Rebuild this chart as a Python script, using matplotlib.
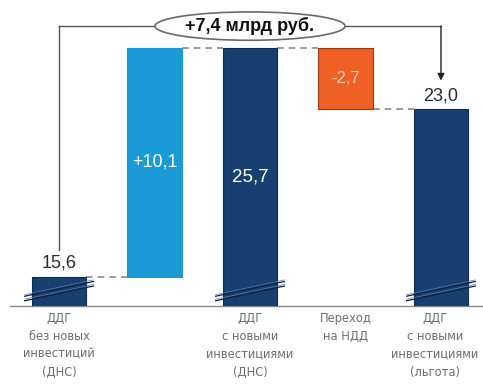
import matplotlib
matplotlib.use("Agg")
import matplotlib.pyplot as plt
import matplotlib.transforms as mtransforms
from matplotlib.patches import Ellipse

plt.rcParams['font.family'] = ['Liberation Sans', 'DejaVu Sans']

categories = ["ДДГ\nбез новых\nинвестиций\n(ДНС)", "",
              "ДДГ\nс новыми\nинвестициями\n(ДНС)", "Переход\nна НДД",
              "ДДГ\nс новыми\nинвестициями\n(льгота)"]
values = [15.6, 10.1, 25.7, -2.7, 23.0]
value_labels = ["15,6", "+10,1", "25,7", "-2,7", "23,0"]
total_label = "+7,4 млрд руб."
kinds = ["total", "delta", "total", "delta", "total"]

navy = "#173F6F"
light = "#1A9AD7"
orange = "#EE6023"

fig = plt.figure(figsize=(4.83, 3.85), dpi=100)
ax = fig.add_axes([10/483, 79/385, 473/483, 306/385])
ax.set_xlim(-0.514, 4.44)
ax.set_ylim(14.32, 27.8)

x = list(range(len(values)))
bottoms, heights, colors = [], [], []
running = 0.0
for i, (v, k) in enumerate(zip(values, kinds)):
    if k == "total":
        bottoms.append(0.0); heights.append(v); running = v
        colors.append(navy)
    else:
        if v >= 0:
            bottoms.append(running); heights.append(v); colors.append(light)
        else:
            bottoms.append(running + v); heights.append(-v); colors.append(orange)
        running += v

edgec = ["#0F2C52", light, "#0F2C52", "#9A3A12", "#0F2C52"]
w = 0.57
ax.bar(x, heights, bottom=bottoms, width=w, color=colors, edgecolor=edgec,
       linewidth=0.8, zorder=3)

# dashed connectors
tops = [b + h for b, h in zip(bottoms, heights)]
conn = [(0, 1, tops[0]), (1, 2, tops[1]), (2, 3, tops[2]), (3, 4, bottoms[3])]
for a, b, y in conn:
    ax.plot([a + w/2, b - w/2], [y, y], color="#8A8A8A", lw=1.2,
            linestyle=(0, (4, 3)), zorder=2)

# break marks on total bars
for i, k in enumerate(kinds):
    if k == "total":
        for off in (0.0, 0.2):
            ax.plot([i - 0.36, i + 0.36], [14.55 + off, 15.2 + off],
                    color="#0A2444", lw=0.9, zorder=4, clip_on=False)
            ax.plot([i - 0.36, i + 0.36], [14.62 + off, 15.27 + off],
                    color="#5E7FA8", lw=0.5, zorder=4, clip_on=False)

# value labels
ax.text(0, tops[0] + 0.6, value_labels[0], ha="center", va="center",
        fontsize=13, color="#2A2A2A", zorder=5)
ax.text(1, (bottoms[1] + tops[1]) / 2, value_labels[1], ha="center",
        va="center", fontsize=13, color="white", zorder=5)
ax.text(2, 20.0, value_labels[2], ha="center", va="center", fontsize=13.5,
        color="white", zorder=5)
ax.text(3, (bottoms[3] + tops[3]) / 2, value_labels[3], ha="center",
        va="center", fontsize=12, color="#F7D2C0", zorder=5)
ax.text(4, tops[4] + 0.55, value_labels[4], ha="center", va="center",
        fontsize=13, color="#2A2A2A", zorder=5)

# bracket with total change
ytop = 26.65
lc = "#555555"
ax.plot([0, 0], [16.8, ytop], color=lc, lw=1.0, zorder=2)
ax.plot([0, 4], [ytop, ytop], color=lc, lw=1.0, zorder=2)
ax.annotate("", xy=(4, 24.25), xytext=(4, ytop),
            arrowprops=dict(arrowstyle="-|>", color="#222222", lw=1.0,
                            mutation_scale=10, shrinkA=0, shrinkB=0), zorder=2)
ell = Ellipse((2.0, ytop), 1.99, 1.25, facecolor="white", edgecolor="#6A6A6A",
              lw=1.2, zorder=4)
ax.add_patch(ell)
ax.text(2.0, ytop, total_label, ha="center", va="center", fontsize=13,
        fontweight="bold", color="#111111", zorder=5)

ax.set_xticks(x)
ax.set_xticklabels(categories, fontsize=8.3, color="#6E6E6E", linespacing=1.5,
                   family=['DejaVu Sans'])
ax.tick_params(axis="x", length=0, pad=4)
last = ax.get_xticklabels()[-1]
last.set_transform(last.get_transform() +
                   mtransforms.ScaledTranslation(-6/100, 0, fig.dpi_scale_trans))
ax.set_yticks([])
for s in ("top", "right", "left"):
    ax.spines[s].set_visible(False)
ax.spines["bottom"].set_color("#888888")
ax.spines["bottom"].set_linewidth(1.0)

fig.savefig("out.png", dpi=100)
